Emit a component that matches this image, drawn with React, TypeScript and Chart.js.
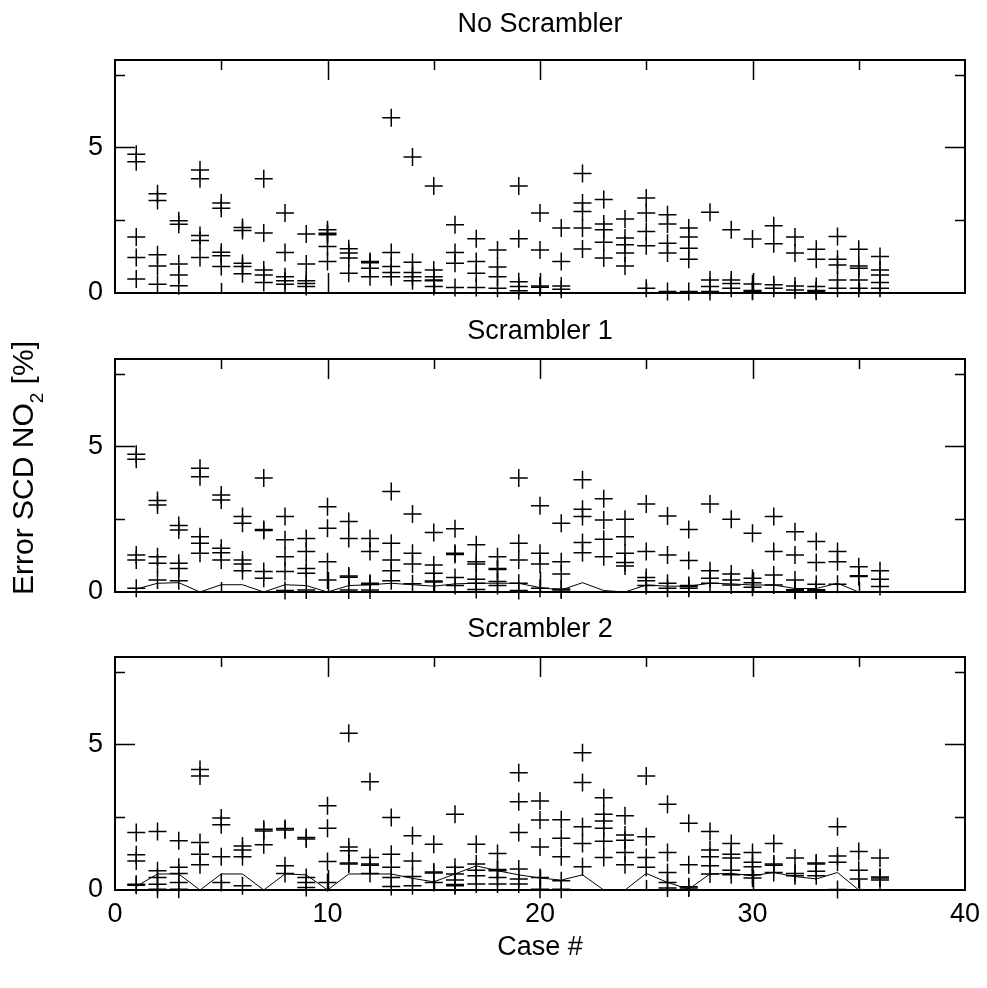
import React, { useEffect, useRef } from 'react';
import { Chart, registerables } from 'chart.js';

Chart.register(...registerables);

// ---------- data ----------
const caseNumbers = [
  1, 2, 3, 4, 5, 6, 7, 8, 9, 10, 11, 12, 13, 14, 15, 16, 17, 18,
  19, 20, 21, 22, 23, 24, 25, 26, 27, 28, 29, 30, 31, 32, 33, 34, 35, 36,
];

const noScramblerErrors: number[][] = [
  [4.76, 4.51, 1.92, 1.22, 0.48],
  [3.41, 3.18, 1.31, 0.93, 0.3],
  [2.48, 2.36, 1.0, 0.62, 0.25],
  [4.22, 3.92, 1.97, 1.8, 1.22],
  [3.09, 2.91, 1.4, 1.28, 0.91],
  [2.25, 2.15, 1.02, 0.91, 0.66],
  [3.92, 2.06, 0.79, 0.62, 0.36],
  [2.75, 1.39, 0.56, 0.42, 0.3],
  [2.03, 1.0, 0.42, 0.33, 0.22],
  [2.17, 2.05, 2.0, 1.6, 1.08],
  [1.52, 1.37, 1.2, 0.68],
  [1.08, 1.04, 0.85, 0.56],
  [6.02, 1.39, 0.91, 0.7, 0.56],
  [4.67, 1.06, 0.7, 0.56, 0.42],
  [3.67, 0.79, 0.56, 0.45, 0.42, 0.22],
  [2.34, 1.39, 1.02, 0.19],
  [1.86, 1.08, 0.68, 0.19],
  [1.48, 0.89, 0.56, 0.16],
  [3.67, 1.86, 0.39, 0.22, 0.08],
  [2.75, 1.48, 0.24, 0.2],
  [2.23, 1.08, 0.24, 0.13],
  [4.1, 3.09, 2.8, 2.23, 1.51],
  [3.21, 2.37, 2.17, 1.74, 1.2],
  [2.54, 1.89, 1.66, 1.37, 0.93],
  [3.26, 2.75, 2.11, 1.62, 0.16],
  [2.69, 2.37, 1.71, 1.37, 0.05],
  [2.23, 1.92, 1.54, 1.16, 0.05],
  [2.77, 0.45, 0.22, 0.05],
  [2.17, 0.45, 0.33, 0.16],
  [1.85, 0.31, 0.09, 0.06],
  [2.31, 1.69, 0.28, 0.16],
  [1.92, 1.37, 0.24, 0.1],
  [1.5, 1.16, 0.22, 0.09, 0.06],
  [1.94, 1.16, 0.96, 0.45, 0.16],
  [1.5, 0.93, 0.85, 0.45, 0.16],
  [1.25, 0.79, 0.62, 0.36, 0.16],
];

const scrambler1Errors: number[][] = [
  [4.73, 4.56, 1.27, 1.1, 0.13],
  [3.14, 2.99, 1.21, 0.99, 0.41],
  [2.28, 2.13, 0.99, 0.81, 0.39],
  [4.25, 3.96, 1.9, 1.67, 1.33],
  [3.33, 3.16, 1.5, 1.35, 1.1],
  [2.59, 2.36, 1.1, 0.96, 0.73],
  [3.91, 2.15, 2.11, 0.7, 0.47],
  [2.59, 1.79, 1.21, 0.7, 0.05],
  [1.84, 1.39, 0.81, 0.64, 0.07],
  [2.93, 2.19, 1.04, 0.41],
  [2.42, 1.84, 0.55, 0.51, 0.07],
  [1.84, 1.39, 0.3, 0.26, 0.07],
  [3.45, 1.67, 1.1, 0.73, 0.39],
  [2.68, 1.33, 0.96, 0.28],
  [2.04, 0.93, 0.64, 0.38, 0.34],
  [2.17, 1.33, 1.29, 0.5, 0.22],
  [1.62, 1.04, 0.96, 0.44, 0.3, 0.09],
  [1.21, 0.81, 0.77, 0.36, 0.22],
  [3.91, 1.67, 1.1, 0.3, 0.05],
  [2.96, 1.33, 0.96, 0.13],
  [2.36, 1.04, 0.62, 0.1, 0.07],
  [3.85, 2.84, 2.59, 1.7, 1.35],
  [3.2, 2.47, 1.81, 1.21],
  [2.5, 1.9, 1.33, 1.01, 0.89],
  [3.02, 1.39, 0.5, 0.39, 0.22],
  [2.61, 1.27, 0.3, 0.13],
  [2.15, 1.08, 0.22, 0.19, 0.13],
  [3.02, 0.73, 0.47, 0.3],
  [2.5, 0.62, 0.41, 0.24],
  [2.02, 0.47, 0.32, 0.16],
  [2.59, 1.39, 0.58, 0.24],
  [2.07, 1.27, 0.41, 0.08, 0.06],
  [1.73, 1.01, 0.27, 0.08, 0.06],
  [1.39, 1.04, 0.27],
  [0.87, 0.56, 0.53],
  [0.73, 0.44, 0.19],
];

const scrambler2Errors: number[][] = [
  [1.97, 1.21, 1.0, 0.2, 0.16],
  [2.01, 0.66, 0.43, 0.2, 0.03],
  [1.69, 0.78, 0.57, 0.26, 0.03],
  [4.14, 3.91, 1.63, 1.23, 0.87],
  [2.47, 2.24, 1.14, 0.26],
  [1.51, 1.37, 1.14, 0.15],
  [2.09, 2.03, 1.55],
  [2.11, 2.06, 0.83, 0.57],
  [1.8, 1.75, 0.43, 0.26, 0.09],
  [2.89, 2.12, 0.98, 0.26],
  [5.38, 1.48, 1.35, 0.93, 0.89],
  [3.72, 1.12, 0.89, 0.85, 0.57],
  [2.49, 1.23, 0.78, 0.43, 0.12],
  [1.86, 1.0, 0.46, 0.15],
  [1.57, 0.62, 0.58, 0.26],
  [2.6, 0.78, 0.55, 0.34, 0.19, 0.15],
  [1.57, 0.89, 0.68, 0.49, 0.21],
  [1.25, 0.7, 0.66, 0.43, 0.21],
  [4.03, 3.03, 1.97, 0.72, 0.38, 0.21],
  [3.06, 2.4, 1.48, 0.43, 0.03],
  [2.41, 1.78, 1.14, 0.32, 0.03],
  [4.71, 3.69, 2.17, 1.6, 0.8],
  [3.17, 2.6, 2.37, 2.12, 1.67, 1.12],
  [2.55, 1.89, 1.71, 1.29, 0.87],
  [3.91, 1.83, 1.12, 0.78],
  [2.94, 1.29, 0.6, 0.26, 0.07],
  [2.29, 0.87, 0.11, 0.07],
  [2.01, 1.37, 1.14, 0.83, 0.55],
  [1.6, 1.23, 1.1, 0.68, 0.52],
  [1.29, 0.95, 0.8, 0.52, 0.41],
  [1.6, 0.89, 0.85, 0.6],
  [1.1, 0.57, 0.49],
  [0.93, 0.89, 0.64, 0.49],
  [2.17, 1.17, 0.95, 0.02],
  [1.32, 0.68, 0.38],
  [1.1, 0.45, 0.41, 0.34],
];

const scrambler1Floor = [
  0.1, 0.3, 0.32, 0.0, 0.25, 0.25, 0.0, 0.25, 0.22, 0.0, 0.22, 0.25,
  0.3, 0.25, 0.2, 0.28, 0.3, 0.3, 0.3, 0.15, 0.07, 0.32, 0.05, 0.0,
  0.24, 0.2, 0.2, 0.3, 0.28, 0.24, 0.24, 0.12, 0.12, 0.3, 0.0, 0.0,
];

const scrambler2Floor = [
  0.12, 0.55, 0.55, 0.0, 0.55, 0.55, 0.0, 0.55, 0.52, 0.0, 0.55, 0.55,
  0.55, 0.4, 0.28, 0.55, 0.83, 0.66, 0.52, 0.41, 0.34, 0.52, 0.0, 0.0,
  0.57, 0.26, 0.03, 0.55, 0.57, 0.49, 0.6, 0.46, 0.38, 0.6, 0.0, 0.0,
];

const panelTitles = ['No Scrambler', 'Scrambler 1', 'Scrambler 2'];
const yTickLabels = [0, 5];
const xTickLabels = [0, 10, 20, 30, 40];
const yMajorMarks = [5];
const yMinorMarks = [2.5, 7.5];
const xMajorMarks = [10, 20, 30];
const xMinorMarks = [5, 15, 25, 35];

// ---------- styling ----------
const FONT_FAMILY = "'Liberation Sans', Arial, Helvetica, sans-serif";
const FONT_SIZE = 27;
const YLABEL_FONT_SIZE = 30;

const framePlugin = {
  id: 'gnuplotFrame',
  afterDraw(chart: any, _args: any, opts: any) {
    const { ctx, chartArea: a, scales } = chart;
    const xs = scales.x;
    const ys = scales.y;
    ctx.save();
    ctx.strokeStyle = '#000';
    ctx.lineWidth = 2;
    ctx.strokeRect(a.left, a.top, a.right - a.left, a.bottom - a.top);
    ctx.lineWidth = 1.5;
    ctx.beginPath();
    const xMark = (v: number, len: number) => {
      const p = Math.round(xs.getPixelForValue(v)) + 0.5;
      ctx.moveTo(p, a.top);
      ctx.lineTo(p, a.top + len);
      ctx.moveTo(p, a.bottom);
      ctx.lineTo(p, a.bottom - len);
    };
    const yMark = (v: number, len: number) => {
      const p = Math.round(ys.getPixelForValue(v)) + 0.5;
      ctx.moveTo(a.left, p);
      ctx.lineTo(a.left + len, p);
      ctx.moveTo(a.right, p);
      ctx.lineTo(a.right - len, p);
    };
    xMajorMarks.forEach((v) => xMark(v, 20));
    xMinorMarks.forEach((v) => xMark(v, 10));
    yMajorMarks.forEach((v) => yMark(v, 20));
    yMinorMarks.forEach((v) => yMark(v, 10));
    ctx.stroke();

    ctx.fillStyle = '#000';
    ctx.font = `${FONT_SIZE}px ${FONT_FAMILY}`;
    ctx.textAlign = 'center';
    ctx.textBaseline = 'alphabetic';
    ctx.fillText(opts.title, (a.left + a.right) / 2, opts.titleBaseline);

    if (opts.xLabel) {
      ctx.fillText(opts.xLabel, (a.left + a.right) / 2, opts.xLabelBaseline);
    }
    if (opts.yLabel) {
      ctx.save();
      ctx.translate(opts.yLabelBaseline, opts.yLabelCenter);
      ctx.rotate(-Math.PI / 2);
      ctx.textAlign = 'left';
      const big = `${YLABEL_FONT_SIZE}px ${FONT_FAMILY}`;
      const small = `${Math.round(YLABEL_FONT_SIZE * 0.62)}px ${FONT_FAMILY}`;
      const p1 = 'Error SCD NO';
      const p2 = '2';
      const p3 = ' [%]';
      ctx.font = big;
      const w1 = ctx.measureText(p1).width;
      const w3 = ctx.measureText(p3).width;
      ctx.font = small;
      const w2 = ctx.measureText(p2).width;
      let x = -(w1 + w2 + w3) / 2;
      ctx.font = big;
      ctx.fillText(p1, x, 0);
      x += w1;
      ctx.font = small;
      ctx.fillText(p2, x, 10);
      x += w2;
      ctx.font = big;
      ctx.fillText(p3, x, 0);
      ctx.restore();
    }
    ctx.restore();
  },
};

type PanelSpec = {
  top: number;
  height: number;
  padTop: number;
  padBottom: number;
  xAxisHeight: number;
  values: number[][];
  floor: number[] | null;
  title: string;
  titleBaseline: number;
  showXTicks: boolean;
  xLabel?: string;
  xLabelBaseline?: number;
  yLabel?: boolean;
  yLabelCenter?: number;
};

const panels: PanelSpec[] = [
  {
    top: 0, height: 320, padTop: 60, padBottom: 27, xAxisHeight: 0,
    values: noScramblerErrors, floor: null,
    title: panelTitles[0], titleBaseline: 32, showXTicks: false,
  },
  {
    top: 300, height: 350, padTop: 59, padBottom: 58, xAxisHeight: 0,
    values: scrambler1Errors, floor: scrambler1Floor,
    title: panelTitles[1], titleBaseline: 339, showXTicks: false,
    yLabel: true, yLabelCenter: 468,
  },
  {
    top: 600, height: 388, padTop: 57, padBottom: 48, xAxisHeight: 50,
    values: scrambler2Errors, floor: scrambler2Floor,
    title: panelTitles[2], titleBaseline: 637, showXTicks: true,
    xLabel: 'Case #', xLabelBaseline: 955,
  },
];

function buildConfig(p: PanelSpec): any {
  const points: { x: number; y: number }[] = [];
  caseNumbers.forEach((c, i) => {
    p.values[i].forEach((v) => points.push({ x: c, y: v }));
  });
  const datasets: any[] = [
    {
      type: 'scatter',
      data: points,
      pointStyle: 'cross',
      pointRadius: 9,
      pointBorderWidth: 1.5,
      borderColor: '#000',
      backgroundColor: '#000',
      showLine: false,
      clip: false,
    },
  ];
  if (p.floor) {
    datasets.push({
      type: 'line',
      data: caseNumbers.map((c, i) => ({ x: c, y: p.floor![i] })),
      borderColor: '#000',
      borderWidth: 1,
      pointRadius: 0,
      fill: false,
      tension: 0,
      clip: false,
    });
  }
  return {
    type: 'scatter',
    data: { datasets },
    options: {
      animation: false,
      responsive: false,
      devicePixelRatio: 1,
      events: [],
      layout: { padding: { top: p.padTop, bottom: p.padBottom, left: 0, right: 22 } },
      plugins: {
        legend: { display: false },
        tooltip: { enabled: false },
        title: { display: false },
        gnuplotFrame: {
          title: p.title,
          titleBaseline: p.titleBaseline - p.top,
          xLabel: p.xLabel,
          xLabelBaseline: (p.xLabelBaseline || 0) - p.top,
          yLabel: p.yLabel || false,
          yLabelBaseline: 33,
          yLabelCenter: (p.yLabelCenter || 0) - p.top,
        },
      },
      scales: {
        x: {
          type: 'linear',
          min: 0,
          max: 40,
          grid: { display: false, drawTicks: false },
          border: { display: false },
          ticks: {
            display: p.showXTicks,
            padding: 8,
            color: '#000',
            font: { family: FONT_FAMILY, size: FONT_SIZE },
            maxRotation: 0,
            autoSkip: false,
          },
          afterBuildTicks: (s: any) => {
            s.ticks = xTickLabels.map((v) => ({ value: v }));
          },
          afterFit: (s: any) => {
            s.height = p.xAxisHeight;
            s.paddingLeft = 0;
            s.paddingRight = 0;
          },
        },
        y: {
          type: 'linear',
          min: 0,
          max: 8,
          grid: { display: false, drawTicks: false },
          border: { display: false },
          ticks: {
            padding: 12,
            color: '#000',
            font: { family: FONT_FAMILY, size: FONT_SIZE },
          },
          afterBuildTicks: (s: any) => {
            s.ticks = yTickLabels.map((v) => ({ value: v }));
          },
          afterFit: (s: any) => {
            s.width = 115;
            s.paddingTop = 0;
            s.paddingBottom = 0;
          },
        },
      },
    },
    plugins: [framePlugin],
  };
}

export default function App() {
  const r0 = useRef<HTMLCanvasElement>(null);
  const r1 = useRef<HTMLCanvasElement>(null);
  const r2 = useRef<HTMLCanvasElement>(null);
  const refs = [r0, r1, r2];

  useEffect(() => {
    const charts = panels.map((p, i) => new Chart(refs[i].current as HTMLCanvasElement, buildConfig(p)));
    return () => charts.forEach((c) => c.destroy());
  }, []);

  return (
    <div style={{ position: 'absolute', left: 0, top: 0, width: 987, height: 988, background: '#fff' }}>
      {panels.map((p, i) => (
        <canvas
          key={i}
          ref={refs[i]}
          width={987}
          height={p.height}
          style={{ position: 'absolute', left: 0, top: p.top, width: 987, height: p.height }}
        />
      ))}
    </div>
  );
}
